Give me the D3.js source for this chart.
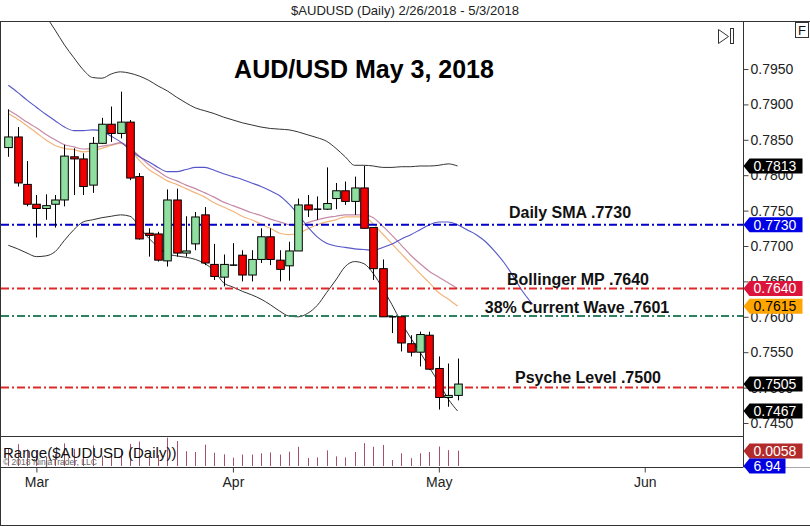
<!DOCTYPE html>
<html><head><meta charset="utf-8">
<script src="https://cdn.jsdelivr.net/npm/d3@7"></script>
<style>body{margin:0;background:#fff}svg{display:block}</style>
</head><body>
<svg id="c" width="810" height="526"></svg>
<script>
// ---------- DATA ----------
const dates = ["2018-02-26","2018-02-27","2018-02-28","2018-03-01","2018-03-02","2018-03-05","2018-03-06","2018-03-07","2018-03-08","2018-03-09",
"2018-03-12","2018-03-13","2018-03-14","2018-03-15","2018-03-16","2018-03-19","2018-03-20","2018-03-21","2018-03-22","2018-03-23",
"2018-03-26","2018-03-27","2018-03-28","2018-03-29","2018-03-30","2018-04-02","2018-04-03","2018-04-04","2018-04-05","2018-04-06",
"2018-04-09","2018-04-10","2018-04-11","2018-04-12","2018-04-13","2018-04-16","2018-04-17","2018-04-18","2018-04-19","2018-04-20",
"2018-04-23","2018-04-24","2018-04-25","2018-04-26","2018-04-27","2018-04-30","2018-05-01","2018-05-02","2018-05-03"];
const openP  = [.7839,.7854,.7787,.7759,.7753,.7759,.7765,.7826,.7823,.7786,.7845,.7872,.7859,.7875,.7798,.7718,.7717,.7679,.7765,.7690,
.7703,.7744,.7674,.7656,.7673,.7687,.7659,.7681,.7713,.7680,.7672,.7693,.7758,.7752,.7752,.7767,.7778,.7763,.7782,.7726,
.7668,.7600,.7600,.7562,.7550,.7574,.7527,.7486,.7489];
const highP  = [.7893,.7868,.7820,.7772,.7773,.7772,.7843,.7838,.7831,.7854,.7881,.7897,.7918,.7878,.7803,.7725,.7720,.7780,.7781,.7742,
.7748,.7755,.7703,.7688,.7704,.7694,.7694,.7725,.7725,.7694,.7706,.7767,.7772,.7770,.7811,.7789,.7791,.7798,.7813,.7726,
.7681,.7600,.7600,.7574,.7579,.7579,.7544,.7534,.7541];
const lowP   = [.7826,.7784,.7756,.7712,.7737,.7726,.7756,.7772,.7772,.7775,.7844,.7847,.7852,.7793,.7709,.7685,.7678,.7671,.7685,.7685,
.7694,.7673,.7652,.7643,.7672,.7650,.7650,.7676,.7673,.7650,.7651,.7693,.7741,.7737,.7751,.7752,.7758,.7744,.7725,.7652,
.7600,.7577,.7551,.7544,.7530,.7525,.7469,.7473,.7482];
const closeP = [.7854,.7789,.7759,.7753,.7757,.7765,.7827,.7823,.7784,.7845,.7872,.7859,.7875,.7796,.7710,.7715,.7680,.7765,.7690,.7693,
.7741,.7676,.7657,.7674,.7673,.7659,.7681,.7713,.7681,.7667,.7693,.7758,.7751,.7752,.7760,.7778,.7763,.7782,.7725,.7668,
.7600,.7600,.7563,.7550,.7575,.7526,.7486,.7489,.7505];

const bbUpper = [.8104,.8083,.8062,.8043,.8025,.8005,.7984,.7966,.7949,.7938,.7937,.7943,.7946,.7944,.7940,.7934,.7926,.7919,.7910,.7902,
.7895,.7891,.7887,.7882,.7878,.7874,.7871,.7868,.7866,.7865,.7864,.7861,.7857,.7853,.7848,.7838,.7826,.7814,.7814,.7813,
.7811,.7811,.7812,.7812,.7813,.7813,.7814,.7816,.7813];
const bbLower = [.7701,.7696,.7690,.7685,.7686,.7692,.7708,.7723,.7734,.7737,.7740,.7742,.7744,.7742,.7727,.7711,.7699,.7689,.7686,.7684,
.7681,.7675,.7665,.7648,.7642,.7636,.7631,.7625,.7617,.7608,.7601,.7600,.7605,.7616,.7634,.7652,.7671,.7678,.7675,.7661,
.7640,.7617,.7592,.7570,.7550,.7528,.7507,.7484,.7467];
const smaDisplaced = [.7927,.7917,.7906,.7896,.7886,.7877,.7868,.7863,.7863,.7864,.7862,.7855,.7847,.7836,.7826,.7819,.7811,.7805,.7805,.7808,
.7811,.7811,.7807,.7802,.7798,.7794,.7789,.7784,.7778,.7771,.7759,.7744,.7727,.7713,.7704,.7700,.7698,.7696,.7695,.7694,
.7698,.7703,.7710,.7716,.7723,.7730,.7734,.7734,.7730,.7723,.7716,.7706,.7692,.7676,.7656,.7635,.7618];
const bbMiddle = [.7892,.7884,.7875,.7867,.7858,.7850,.7843,.7840,.7837,.7838,.7841,.7843,.7846,.7838,.7827,.7815,.7806,.7797,.7792,.7786,
.7781,.7775,.7769,.7762,.7757,.7752,.7747,.7743,.7738,.7734,.7730,.7728,.7733,.7737,.7740,.7742,.7744,.7744,.7744,.7740,
.7728,.7715,.7701,.7687,.7675,.7664,.7656,.7648,.7640];
const emaOrange = [.7887,.7879,.7870,.7860,.7850,.7842,.7838,.7836,.7833,.7835,.7838,.7842,.7845,.7836,.7821,.7808,.7800,.7792,.7787,.7781,
.7775,.7769,.7761,.7755,.7749,.7742,.7737,.7731,.7725,.7718,.7716,.7718,.7724,.7730,.7734,.7737,.7741,.7741,.7741,.7731,
.7717,.7703,.7689,.7675,.7661,.7648,.7634,.7625,.7615];

const priceTicks = [0.7950,0.7900,0.7850,0.7800,0.7750,0.7700,0.7650,0.7600,0.7550,0.7500,0.7450];
const monthLabels = ["Mar","Apr","May","Jun"];
const monthIndex = [3,24,46,68];

const levelValues = [0.7730,0.7640,0.7601,0.7500];
const levelLabels = ["Daily SMA .7730","Bollinger MP .7640","38% Current Wave .7601","Psyche Level .7500"];
const levelColors = ["#0000c8","#e02828","#2e8060","#e02828"];

const tagValues = [0.7813,0.7730,0.7640,0.7615,0.7505,0.7467];
const tagFills  = ["#000000","#0000e6","#dc143c","#ffa500","#000000","#000000"];
const tagText   = ["#fff","#fff","#fff","#000","#fff","#fff"];

const rangeTagValue = 0.0058;
const extraTagText = "6.94";

// ---------- LAYOUT ----------
const L = 1, R = 743, T = 21, MB = 436, RB = 467, B = 525;
const svg = d3.select("#c");
const x = d3.scaleLinear().domain([-0.78, 78.5]).range([L, R]);
const y = d3.scaleLinear().domain([0.7450, 0.7950]).range([423, 69]);
const yr = d3.scaleLinear().domain([0, 0.01]).range([466, 440]);
const FONT = "'Liberation Sans', Arial, sans-serif";

svg.append("rect").attr("width",810).attr("height",526).attr("fill","#fff");

// header
svg.append("text").attr("x",405).attr("y",15).attr("text-anchor","middle")
  .attr("font-family","'Liberation Sans Narrow','Liberation Sans',Arial,sans-serif").attr("font-size",13)
  .attr("textLength",228).attr("lengthAdjust","spacingAndGlyphs").attr("fill","#222")
  .text("$AUDUSD (Daily)  2/26/2018 - 5/3/2018");

// clip
svg.append("clipPath").attr("id","clipMain").append("rect").attr("x",L).attr("y",T).attr("width",R-L).attr("height",MB-T);
const g = svg.append("g").attr("clip-path","url(#clipMain)");

// big title
svg.append("text").attr("x",364).attr("y",78).attr("text-anchor","middle").attr("font-family",FONT)
  .attr("font-weight","bold").attr("font-size",25).attr("fill","#000").text("AUD/USD May 3, 2018");

// indicator lines
const mk = arr => d3.line().x((d,i)=>x(i)).y(d=>y(d)).curve(d3.curveMonotoneX)(arr);
g.append("path").attr("d",mk(bbUpper)).attr("fill","none").attr("stroke","#333").attr("stroke-width",1);
g.append("path").attr("d",mk(bbLower)).attr("fill","none").attr("stroke","#333").attr("stroke-width",1);
g.append("path").attr("d",mk(emaOrange)).attr("fill","none").attr("stroke","#f2b47a").attr("stroke-width",1.2);
g.append("path").attr("d",mk(bbMiddle)).attr("fill","none").attr("stroke","#c68aa6").attr("stroke-width",1.2);
g.append("path").attr("d",mk(smaDisplaced)).attr("fill","none").attr("stroke","#5656c8").attr("stroke-width",1.1);

// level lines
levelValues.forEach((v,i)=>{
  g.append("line").attr("x1",L).attr("x2",R).attr("y1",y(v)).attr("y2",y(v))
   .attr("stroke",levelColors[i]).attr("stroke-width",2).attr("stroke-dasharray","8,3,2,3");
});

// candles
const bw = 7.6;
dates.forEach((d,i)=>{
  const cx = Math.round(x(i))+0.5;
  g.append("line").attr("x1",cx).attr("x2",cx).attr("y1",y(highP[i])).attr("y2",y(lowP[i])).attr("stroke","#000").attr("stroke-width",1);
  const o=openP[i], c=closeP[i];
  const top = y(Math.max(o,c)), bot = y(Math.min(o,c));
  if (Math.abs(o-c) < 0.00005) {
    g.append("line").attr("x1",cx-bw/2).attr("x2",cx+bw/2).attr("y1",top).attr("y2",top).attr("stroke","#000").attr("stroke-width",1.5);
  } else {
    g.append("rect").attr("x",cx-bw/2).attr("y",top).attr("width",bw).attr("height",Math.max(1,bot-top))
     .attr("fill", c>o ? "#8fe0a0" : "#ee0000").attr("stroke","#000").attr("stroke-width",1);
  }
});

// level annotations
const annX = [570,578,577,588], annY = [218,285,313,383];
levelLabels.forEach((t,i)=>{
  svg.append("text").attr("x",annX[i]).attr("y",annY[i]).attr("text-anchor","middle").attr("font-family",FONT)
    .attr("font-weight","bold").attr("font-size",16).attr("fill","#111").text(t);
});

// range panel
svg.append("clipPath").attr("id","clipR").append("rect").attr("x",L).attr("y",MB).attr("width",R-L).attr("height",RB-MB);
const gr = svg.append("g").attr("clip-path","url(#clipR)");
dates.forEach((d,i)=>{
  const cx = Math.round(x(i))+0.5;
  gr.append("line").attr("x1",cx).attr("x2",cx).attr("y1",yr(0)).attr("y2",yr(highP[i]-lowP[i]))
    .attr("stroke","#a8506a").attr("stroke-width",1);
});
svg.append("text").attr("x",3).attr("y",458).attr("font-family",FONT).attr("font-size",15).attr("fill","#111").text("Range($AUDUSD (Daily))");
svg.append("text").attr("x",3).attr("y",465).attr("font-family",FONT).attr("font-size",8.5).attr("fill","#666").text("© 2018 NinjaTrader, LLC");

// frame lines
const fl = (x1,y1,x2,y2,c)=>svg.append("line").attr("x1",x1).attr("y1",y1).attr("x2",x2).attr("y2",y2).attr("stroke",c||"#333").attr("stroke-width",1);
fl(0,T+0.5,810,T+0.5);
fl(0.5,T,0.5,B);
fl(0,B+0.5,810,B+0.5);
fl(0,MB+0.5,R,MB+0.5);
fl(0,RB+0.5,R,RB+0.5);
fl(R,RB+0.5,810,RB+0.5,"#aaa");
fl(R+0.5,T,R+0.5,RB);

// price axis
const ya = svg.append("g").attr("transform",`translate(${R+0.5},0)`)
  .call(d3.axisRight(y).tickValues(priceTicks).tickFormat(d3.format(".4f")).tickSize(5).tickPadding(2));
ya.select(".domain").remove();
ya.selectAll("text").attr("font-family",FONT).attr("font-size",14).attr("fill","#222");
ya.selectAll("line").attr("stroke","#444");

// x axis
const xa = svg.append("g").attr("transform",`translate(0,${RB+0.5})`)
  .call(d3.axisBottom(x).tickValues(monthIndex).tickFormat((d,i)=>monthLabels[i]).tickSize(5).tickPadding(5));
xa.select(".domain").remove();
xa.selectAll("text").attr("font-family",FONT).attr("font-size",14).attr("fill","#222");
xa.selectAll("line").attr("stroke","#444");

// tags
function tag(yc, fill, tcol, txt, w){
  const x0 = R+0.5;
  svg.append("path").attr("d",`M${x0},${yc} L${x0+6},${yc-7.5} L${x0+6+w},${yc-7.5} L${x0+6+w},${yc+7.5} L${x0+6},${yc+7.5} Z`)
    .attr("fill",fill);
  svg.append("text").attr("x",x0+10).attr("y",yc+5).attr("font-family",FONT).attr("font-size",14).attr("fill",tcol).text(txt);
}
tagValues.forEach((v,i)=>tag(y(v), tagFills[i], tagText[i], d3.format(".4f")(v), 53));
tag(yr(rangeTagValue), "#b22a2a", "#fff", d3.format(".4f")(rangeTagValue), 53);
tag(yr(0), "#0000e0", "#fff", extraTagText, 36);

// F box and nav icon
svg.append("rect").attr("x",795.5).attr("y",22.5).attr("width",13).attr("height",15).attr("fill","#fff").attr("stroke","#333");
svg.append("text").attr("x",802).attr("y",35).attr("text-anchor","middle").attr("font-family",FONT).attr("font-size",13).attr("fill","#111").text("F");
svg.append("path").attr("d","M718.5,29.5 L728.5,36.5 L718.5,43.5 Z").attr("fill","none").attr("stroke","#333");
svg.append("rect").attr("x",730.5).attr("y",28.5).attr("width",3).attr("height",15).attr("fill","#fff").attr("stroke","#333");
</script>
</body></html>
